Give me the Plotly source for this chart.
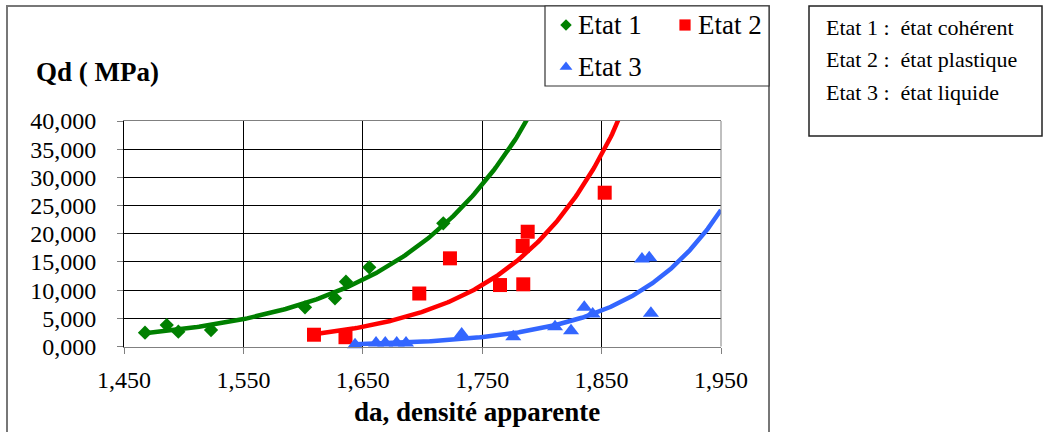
import numpy as np
import plotly.graph_objects as go

# Densité apparente (da) et résistance dynamique Qd (MPa) par état du sol
da_etat1 = [1.4676, 1.4858, 1.4955, 1.5229, 1.6016, 1.6267, 1.6359, 1.6554, 1.7174]
qd_etat1 = [2.45, 3.80, 2.63, 2.93, 6.95, 8.55, 11.50, 14.05, 21.85]

da_etat2 = [1.6091, 1.6355, 1.6973, 1.7230, 1.7649, 1.7844, 1.7839, 1.7881, 1.8526]
qd_etat2 = [2.09, 1.65, 9.40, 15.64, 10.90, 11.03, 17.83, 20.36, 27.28]

da_etat3 = [1.6435, 1.6611, 1.6688, 1.6784, 1.6862, 1.7328, 1.7760,
            1.8110, 1.8244, 1.8355, 1.8425, 1.8838, 1.8899, 1.8913]
qd_etat3 = [0.32, 0.62, 0.62, 0.62, 0.62, 2.20, 1.74,
            3.50, 2.80, 6.95, 5.76, 15.52, 15.75, 5.89]

series_names = ["Etat 1", "Etat 2", "Etat 3"]
descriptions = ["Etat 1 :  état cohérent", "Etat 2 :  état plastique", "Etat 3 :  état liquide"]
x_ticks = [1.45, 1.55, 1.65, 1.75, 1.85, 1.95]
y_ticks = [0, 5, 10, 15, 20, 25, 30, 35, 40]

GREEN, RED, BLUE = "#008000", "#FF0000", "#3366FF"
FONT = "Liberation Serif"
W, H = 1048, 432


def px(x):
    return x / W


def py(y):
    return 1 - y / H


def exp_trend(x, y, x_end=1.95, n=300):
    """Courbe de tendance exponentielle y = a·exp(b·x), ajustée sur ln(y)."""
    b, ln_a = np.polyfit(np.asarray(x), np.log(np.asarray(y)), 1)
    xs = np.linspace(min(x), x_end, n)
    return xs, np.exp(ln_a + b * xs)


fig = go.Figure()

groups = [
    (da_etat1, qd_etat1, GREEN, "diamond", 11),
    (da_etat2, qd_etat2, RED, "square", 14),
    (da_etat3, qd_etat3, BLUE, "triangle-up", 14),
]

for (xv, yv, col, sym, size), name in zip(groups, series_names):
    fig.add_trace(go.Scatter(
        x=xv, y=yv, mode="markers", name=name, showlegend=False,
        marker=dict(symbol=sym, size=size, color=col, line=dict(width=0)),
        cliponaxis=False,
    ))
    tx, ty = exp_trend(xv, yv)
    fig.add_trace(go.Scatter(
        x=tx, y=ty, mode="lines", showlegend=False, hoverinfo="skip",
        line=dict(color=col, width=4.5),
    ))

# Symboles de la légende, placés sur un repère en pixels couvrant toute la figure
leg_pos = [(566, 25), (685, 25), (566, 67)]
for (xv, yv, col, sym, size), (lx, ly) in zip(groups, leg_pos):
    fig.add_trace(go.Scatter(
        x=[lx], y=[ly], mode="markers", xaxis="x2", yaxis="y2",
        showlegend=False, hoverinfo="skip", cliponaxis=False,
        marker=dict(symbol=sym, size=size * 0.8, color=col, line=dict(width=0)),
    ))

x0, x1 = 124, 721
y_top, y_bot = 121, 346.5

fig.update_layout(
    width=W, height=H,
    margin=dict(l=0, r=0, t=0, b=0, pad=0, autoexpand=False),
    paper_bgcolor="white",
    plot_bgcolor="rgba(0,0,0,0)",
    separators=", ",
    font=dict(family=FONT, color="black"),
    xaxis=dict(
        domain=[px(x0), px(x1)], range=[1.45, 1.95], automargin=False,
        tickvals=x_ticks, tickformat=".3f",
        showgrid=True, gridcolor="black", gridwidth=1,
        showline=True, linecolor="#808080", linewidth=1, mirror=True,
        ticks="outside", ticklen=6, tickcolor="#808080",
        tickfont=dict(size=24, family=FONT), ticklabelstandoff=6,
        zeroline=False, fixedrange=True,
    ),
    yaxis=dict(
        domain=[py(y_bot), py(y_top)], range=[0, 40], automargin=False,
        tickvals=y_ticks, tickformat=".3f",
        showgrid=True, gridcolor="black", gridwidth=1,
        showline=True, linecolor="black", linewidth=1,
        ticks="outside", ticklen=6, tickcolor="#808080",
        tickfont=dict(size=24, family=FONT), ticklabelstandoff=16,
        zeroline=False, fixedrange=True,
    ),
    xaxis2=dict(domain=[0, 1], range=[0, W], visible=False, anchor="y2",
                automargin=False, fixedrange=True),
    yaxis2=dict(domain=[0, 1], range=[H, 0], visible=False, anchor="x2",
                automargin=False, fixedrange=True),
)

shapes = [
    # cadre du graphique
    dict(type="rect", xref="paper", yref="paper", x0=px(7), x1=px(769), y0=py(445), y1=py(6),
         line=dict(color="#777777", width=2), layer="below"),
    # bord droit de la zone de tracé
    dict(type="line", xref="paper", yref="paper", x0=px(x1), x1=px(x1), y0=py(y_bot), y1=py(y_top),
         line=dict(color="#808080", width=1)),
    # cadre de la légende
    dict(type="rect", xref="paper", yref="paper", x0=px(545), x1=px(769), y0=py(86), y1=py(6),
         line=dict(color="#333333", width=1.2), fillcolor="white", layer="below"),
    # encadré des descriptions
    dict(type="rect", xref="paper", yref="paper", x0=px(809), x1=px(1042), y0=py(136), y1=py(6),
         line=dict(color="#222222", width=1.5)),
]

annotations = [
    dict(text="<b>Qd ( MPa)</b>", x=px(34), y=py(72), xanchor="left", yanchor="middle",
         font=dict(size=27, family=FONT)),
    dict(text="<b>da, densité apparente</b>", x=px(477), y=py(412), xanchor="center", yanchor="middle",
         font=dict(size=27, family=FONT)),
]
leg_text_pos = [(576, 25), (696, 25), (576, 67)]
for name, (tx, ty) in zip(series_names, leg_text_pos):
    annotations.append(dict(text=name, x=px(tx), y=py(ty), xanchor="left", yanchor="middle",
                            font=dict(size=27, family=FONT)))
for i, line in enumerate(descriptions):
    annotations.append(dict(text=line, x=px(824), y=py(28 + 32 * i), xanchor="left", yanchor="middle",
                            font=dict(size=22, family=FONT)))

for a in annotations:
    a.update(xref="paper", yref="paper", showarrow=False)

fig.update_layout(shapes=shapes, annotations=annotations)

fig.write_html("out.html")
